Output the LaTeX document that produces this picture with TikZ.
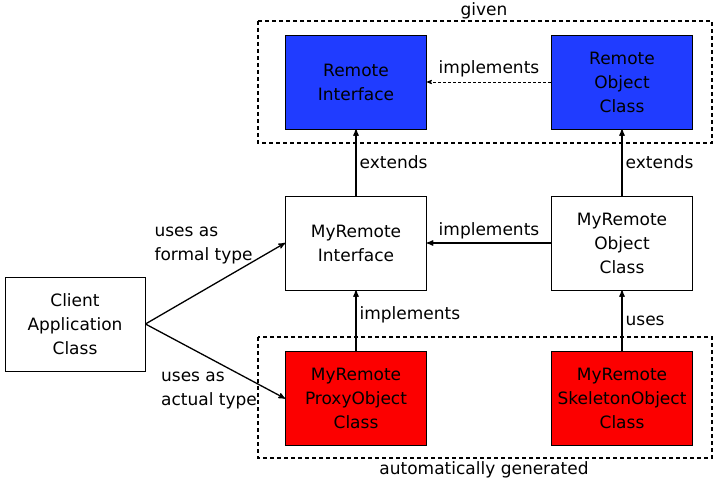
\documentclass[tikz,border=0pt]{standalone}
\usepackage{fontspec}
\setmainfont{DejaVu Sans}
\usetikzlibrary{arrows,positioning}
\definecolor{remoteblue}{RGB}{32,60,255}
\definecolor{genred}{RGB}{252,0,0}

\begin{document}
\begin{tikzpicture}[->,>=stealth',auto,line width=1.3pt,x=1pt,y=1pt,font=\fontsize{17}{24}\selectfont]
\tikzstyle{cls}=[draw,line width=0.9pt,fill=white,text=black,minimum width=141pt,minimum height=94pt,inner sep=0pt,align=center]
\tikzstyle{grp}=[draw,line width=1.3pt,dash pattern=on 4pt off 3pt]
\tikzstyle{lbl}=[inner sep=3pt,text=black]

\useasboundingbox (0,0) rectangle (721,-484);

% given / generated areas
\draw[-,grp] (258,-21) rectangle (712,-143);
\draw[-,grp] (258,-337) rectangle (712,-458);
\node (given) at (484,-11) {given};
\node (generated) at (484,-470) {automatically generated};

\node[cls]        (MRI) at (356,-243) {MyRemote\\Interface};
\node[cls]        (RI) [above of=MRI,node distance=161pt,fill=remoteblue] {Remote\\Interface};
\node[cls]        (MROC) [right of=MRI,node distance=266pt] {MyRemote\\Object\\Class};
\node[cls]        (ROC) [above of=MROC,node distance=161pt,fill=remoteblue] {Remote\\Object\\Class};
\node[cls]        (PROXY) [below of=MRI,node distance=155.5pt,fill=genred] {MyRemote\\ProxyObject\\Class};
\node[cls]        (SKEL) [below of=MROC,node distance=155.5pt,fill=genred] {MyRemote\\SkeletonObject\\Class};
\node[cls]        (CLIENT) [left of=MRI,node distance=281pt,yshift=-81pt,minimum width=140pt] {Client\\Application\\Class};

\path
(MRI) edge node[lbl,right] {extends} (RI)
(MROC) edge node[lbl,right] {extends} (ROC)
(PROXY) edge node[lbl,right,pos=0.6] {implements} (MRI)
(SKEL) edge node[lbl,right] {uses} (MROC)
(MROC) edge node[lbl,above] {implements} (MRI)
(ROC) edge[dash pattern=on 3pt off 2pt,line width=0.8pt] node[lbl,above,inner sep=5pt] {implements} (RI)
(CLIENT.east) edge node[lbl,pos=0.78,anchor=south east,align=left,inner sep=1pt,yshift=-5pt] {uses as\\formal type} (MRI.west)
(CLIENT.east) edge node[lbl,pos=0.81,anchor=east,yshift=-6pt,align=left,inner sep=1pt] {uses as\\actual type} (PROXY.west)
;
    \end{tikzpicture}
\end{document}
